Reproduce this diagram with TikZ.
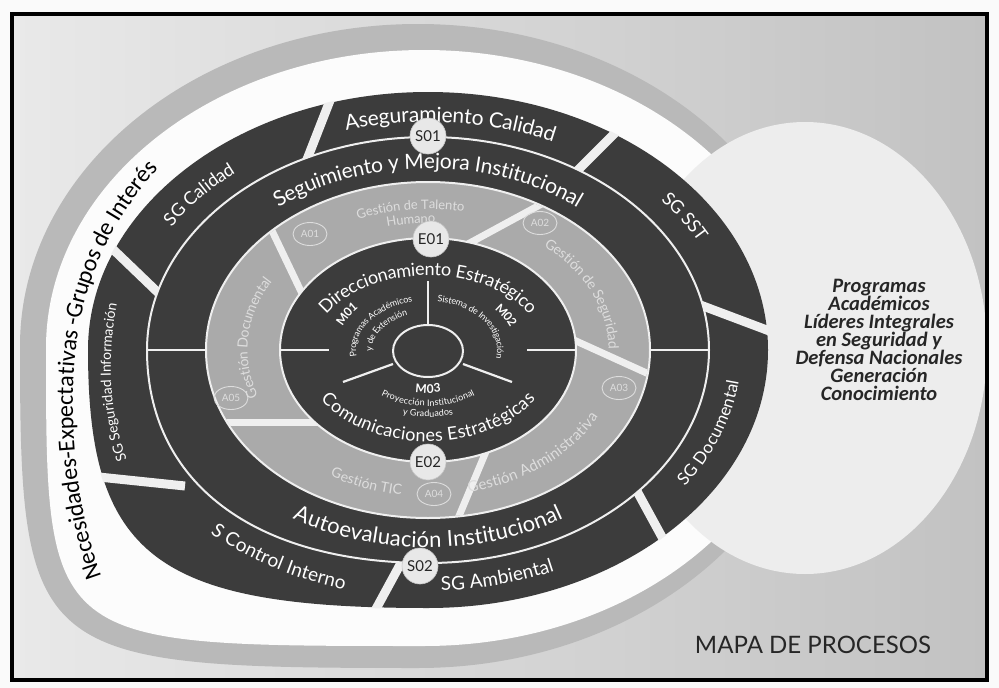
\documentclass[tikz,border=0pt]{standalone}
\usepackage{fontspec}
\setmainfont{Lato}
\newfontfamily\carl{Carlito}
\usetikzlibrary{decorations.text,shapes.geometric}
\definecolor{darkring}{HTML}{3C3C3C}
\definecolor{lightring}{HTML}{AAAAAA}
\definecolor{bandgray}{HTML}{B9B9B9}
\definecolor{pageL}{HTML}{E9E9E9}
\definecolor{pageR}{HTML}{C2C2C2}
\definecolor{rightell}{HTML}{EDEDED}
\definecolor{badge}{HTML}{E8E8E8}
\definecolor{txtdark}{HTML}{262626}
\definecolor{lighttxt}{HTML}{DDDDDD}
\definecolor{sepwhite}{HTML}{EFEFEF}

% ring text along an elliptic arc centred on C
\newcommand{\ringtext}[6]{%
  \path[decorate,decoration={text along path,text align=center,#5,text={#6}}]
    ([shift={(#3:#1 and #2)}]C) arc[start angle=#3,end angle=#4,x radius=#1,y radius=#2];}
% ellipse-like closed curve, lower-left quadrant bulged by factor #3
\newcommand{\blob}[3]{(#1,0) .. controls (#1,{0.5523*#2}) and ({0.5523*#1},#2) .. (0,#2)
  .. controls ({-0.5523*#1},#2) and (-#1,{0.5523*#2}) .. (-#1,0)
  .. controls (-#1,{-#3*#2}) and ({-#3*#1},-#2) .. (0,-#2)
  .. controls ({0.5523*#1},-#2) and (#1,{-0.5523*#2}) .. (#1,0) -- cycle}

\begin{document}
\begin{tikzpicture}[x=1pt,y=1pt,
  gapline/.style={draw=sepwhite,line width=9pt},
  divline/.style={draw=sepwhite,line width=7pt},
  thinsep/.style={draw=sepwhite,line width=2.2pt},
  ringedge/.style={draw=sepwhite,line width=2pt},
  badgecirc/.style={circle,fill=badge,draw=gray!45,line width=0.6pt,minimum size=36pt,inner sep=0pt,font=\fontsize{15}{15}\selectfont,text=txtdark},
  abadge/.style={ellipse,draw=lighttxt,line width=0.9pt,minimum width=34pt,minimum height=23pt,inner sep=0pt,font=\fontsize{10}{10}\selectfont,text=lighttxt},
]
\useasboundingbox (0,0) rectangle (999,-688);
\fill[white!96!gray] (0,0) rectangle (999,-688);
\shade[left color=pageL,right color=pageR] (12,-14) rectangle (987,-680);
\coordinate (C) at (428,-350);
\fill[bandgray,shift={(418,-346)}] \blob{398}{322}{0.97};
\fill[white!98!gray,shift={(424,-348)}] \blob{378}{298}{1.0};
\fill[rightell] (805,-348) ellipse[x radius=182,y radius=226];

% outer SG ring
\fill[darkring,shift={(C)}] \blob{340}{258}{0.8};
\begin{scope}
  \clip[shift={(C)}] \blob{341}{259}{0.8};
  \path[gapline] (306,-162) -- (338,-80);
  \path[gapline] (572,-176) -- (630,-118);
  \path[gapline] (695,-303) -- (780,-335);
  \path[gapline] (632,-482) -- (668,-548);
  \path[gapline] (408,-550) -- (370,-620);
  \path[gapline] (185,-486) -- (70,-474);
  \path[gapline] (172,-306) -- (95,-232);
\end{scope}

% seguimiento ring
\draw[ringedge,fill=darkring,shift={(C)}] \blob{281}{213}{0.62};
\path[thinsep] (148,-350) -- (210,-350);
\path[thinsep] (646,-350) -- (708,-350);

% support ring
\draw[ringedge,fill=lightring,shift={(C)}] \blob{222}{168}{0.56};
\begin{scope}
  \clip[shift={(C)}] \blob{221}{167}{0.56};
  \path[divline] (308,-306) -- (264,-214);
  \path[divline] (455,-251) -- (560,-194);
  \path[divline] (565,-336) -- (662,-380);
  \path[divline] (490,-442) -- (454,-528);
  \path[divline] (325,-422) -- (190,-422);
\end{scope}

% strategic
\draw[ringedge,fill=darkring] (C) ellipse[x radius=148,y radius=112];
\path[thinsep] (281,-350) -- (329,-350);
\path[thinsep] (527,-350) -- (575,-350);
\path[thinsep] (428,-281) -- (428,-324);
\path[thinsep] (343,-382) -- (393,-364);
\path[thinsep] (463,-364) -- (512,-382);
\draw[ringedge,fill=darkring] (428,-351) ellipse[x radius=35,y radius=26];

% outer ring texts
\ringtext{310}{235}{140}{30}{text color=white,raise=-7pt}{|\fontsize{21}{21}\selectfont|Aseguramiento Calidad}
\ringtext{312}{237}{58}{8}{text color=white,raise=-6pt}{|\fontsize{18}{18}\selectfont|SG SST}
\ringtext{308}{233}{-50}{10}{text color=white,raise=-5.5pt}{|\fontsize{17}{17}\selectfont|SG Documental}
\ringtext{310}{235}{-112}{-40}{text color=white,raise=-6pt}{|\fontsize{19}{19}\selectfont|SG Ambiental}
\ringtext{317}{242}{199}{279}{text color=white,raise=-6pt}{|\fontsize{19}{19}\selectfont|S Control Interno}
\path[decorate,decoration={text along path,text align=center,text color=white,raise=-4.5pt,
  text={|\fontsize{14}{14}\selectfont|SG Seguridad Información}}]
  (124,-464) .. controls (104,-415) and (102,-360) .. (113,-300);
\ringtext{310}{235}{170}{110}{text color=white,raise=-6pt}{|\fontsize{18}{18}\selectfont|SG Calidad}

% seguimiento texts
\ringtext{248}{188}{178}{2}{text color=white,raise=-6.5pt}{|\fontsize{21}{21}\selectfont|Seguimiento y Mejora Institucional}
\ringtext{253}{191}{180}{360}{text color=white,raise=-6.5pt}{|\fontsize{22}{22}\selectfont|Autoevaluación Institucional}

% support texts
\ringtext{191}{145}{140}{52}{text color=lighttxt,raise=-4pt}{|\fontsize{13}{13}\selectfont|Gestión de Talento}
\ringtext{174}{131}{125}{67}{text color=lighttxt,raise=-4pt}{|\fontsize{13}{13}\selectfont|Humano}
\ringtext{185}{140}{62}{-14}{text color=lighttxt,raise=-4.5pt}{|\fontsize{14}{14}\selectfont|Gestión de Seguridad}
\ringtext{187}{141}{-95}{-5}{text color=lighttxt,raise=-4.5pt}{|\fontsize{15}{15}\selectfont|Gestión Administrativa}
\ringtext{187}{142}{226}{274}{text color=lighttxt,raise=-4.5pt}{|\fontsize{14}{14}\selectfont|Gestión TIC}
\ringtext{185}{140}{212}{138}{text color=lighttxt,raise=-4.5pt}{|\fontsize{14}{14}\selectfont|Gestión Documental}

% strategic texts
\ringtext{121}{80}{185}{-5}{text color=white,raise=-5.5pt}{|\fontsize{18}{18}\selectfont|Direccionamiento Estratégico}
\ringtext{122}{86}{175}{365}{text color=white,raise=-5.5pt}{|\fontsize{18}{18}\selectfont|Comunicaciones Estratégicas}

% misional texts
\ringtext{96}{68}{178}{122}{text color=white,raise=-4pt}{|\fontsize{12}{12}\selectfont\bfseries|M01}
\ringtext{75}{52}{205}{90}{text color=white,raise=-3pt}{|\fontsize{9}{9}\selectfont|Programas Académicos}
\ringtext{59}{40}{190}{105}{text color=white,raise=-3pt}{|\fontsize{9}{9}\selectfont|y de Extensión}
\ringtext{92}{66}{55}{5}{text color=white,raise=-4pt}{|\fontsize{12}{12}\selectfont\bfseries|M02}
\ringtext{72}{52}{90}{-20}{text color=white,raise=-3pt}{|\fontsize{9}{9}\selectfont|Sistema de Investigación}
\ringtext{56}{39}{245}{295}{text color=white,raise=-4pt}{|\fontsize{12}{12}\selectfont\bfseries|M03}
\ringtext{76}{53}{215}{325}{text color=white,raise=-3pt}{|\fontsize{9}{9}\selectfont|Proyección Institucional}
\ringtext{90}{64}{245}{295}{text color=white,raise=-3pt}{|\fontsize{9}{9}\selectfont|y Graduados}

% outer band text
\path[decorate,decoration={text along path,text align=center,text color=black,raise=-6pt,
  text={|\carl\fontsize{24}{24}\selectfont|Necesidades-Expectativas -Grupos de Interés}}]
  (118,-626) .. controls (70,-545) and (60,-420) .. (71,-340)
  .. controls (80,-265) and (122,-185) .. (192,-129);

% badges
\node[badgecirc] (S01) at (428,-136) {S01};
\node[badgecirc] (E01) at (431,-239) {E01};
\node[badgecirc] (E02) at (428,-462) {E02};
\node[badgecirc] (S02) at (420,-566) {S02};
\node[abadge] (A01) at (310,-234) {A01};
\node[abadge] (A02) at (540,-223) {A02};
\node[abadge] (A03) at (619,-388) {A03};
\node[abadge] (A04) at (434,-494) {A04};
\node[abadge] (A05) at (231,-398) {A05};

% right text
\node[align=center,font=\carl\bfseries\itshape\fontsize{20.5}{18}\selectfont,text=txtdark] (prog) at (879,-340) {Programas\\Académicos\\Líderes Integrales\\en Seguridad y\\Defensa Nacionales\\Generación\\Conocimiento};
\node[font=\fontsize{24}{24}\selectfont,text=txtdark] (mapa) at (813,-645) {MAPA DE PROCESOS};

\draw[line width=3.5pt] (12,-14) rectangle (987,-680);
\end{tikzpicture}
\end{document}
